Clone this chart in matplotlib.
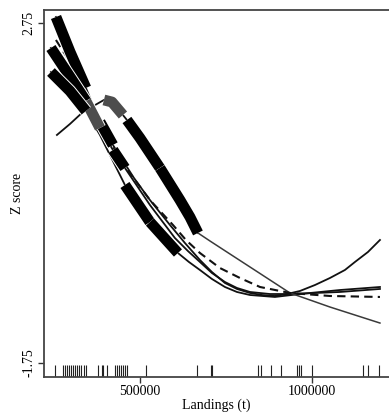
import numpy as np
import matplotlib
matplotlib.use("Agg")
import matplotlib.pyplot as plt
import matplotlib.patheffects as pe

plt.rcParams['font.family'] = ['Liberation Serif', 'DejaVu Serif']

# curves (landings in t, z score)
c1_x = [256000, 297000, 343000, 384000, 421500, 482600, 529000, 587200, 630800,
        674400, 709300, 747100, 782000, 819800, 854700, 892400, 927300, 965000,
        1008700, 1052300, 1095900, 1125000, 1162800, 1197700]
c1_y = [2.829, 2.366, 1.890, 1.440, 1.135, 0.699, 0.407, 0.077, -0.162,
        -0.387, -0.546, -0.691, -0.770, -0.823, -0.850, -0.863, -0.837, -0.797,
        -0.718, -0.625, -0.519, -0.413, -0.281, -0.122]

c2_x = [241300, 296500, 343000, 383700, 421500, 456400, 529100, 601700, 639500,
        674400, 709300, 747100, 782000, 819800, 877900, 936000, 1081400, 1197700]
c2_y = [2.419, 2.040, 1.717, 1.360, 1.069, 0.831, 0.341, -0.096, -0.268,
        -0.413, -0.559, -0.678, -0.757, -0.810, -0.837, -0.837, -0.810, -0.770]

c3_x = [241300, 296500, 343000, 383700, 456400, 529100, 610500, 642400, 674400,
        709300, 747100, 782000, 819800, 892400, 965100, 1081400, 1197700]
c3_y = [2.101, 1.850, 1.585, 1.268, 0.606, 0.116, -0.294, -0.413, -0.519,
        -0.638, -0.744, -0.810, -0.850, -0.876, -0.837, -0.784, -0.744]

hump_x = [258700, 296500, 334300, 375000, 395300, 418600, 450600, 462200, 500000,
          558100, 616300, 645400, 668600, 703500, 761600, 819800, 877900, 936000,
          994200, 1052300, 1125000, 1197700]
hump_y = [1.268, 1.413, 1.572, 1.678, 1.731, 1.704, 1.532, 1.466, 1.228,
          0.831, 0.407, 0.182, -0.029, -0.135, -0.307, -0.479, -0.651, -0.823,
          -0.916, -1.009, -1.115, -1.221]

mean_x = [255800, 296500, 343000, 383700, 441900, 529100, 595900, 633700, 674400,
          732600, 790800, 849000, 936000, 1052300, 1197700]
mean_y = [2.525, 2.234, 1.837, 1.466, 0.937, 0.407, 0.077, -0.122, -0.294,
          -0.493, -0.625, -0.744, -0.823, -0.863, -0.876]

# thick pieces of each curve: (first point, last point, shade)
c1_bands = [(0, 2, 'k'), (3, 4, 'k')]
c2_bands = [(0, 2, 'k'), (2, 3, 'grey'), (4, 5, 'k')]
c3_bands = [(0, 2, 'k'), (4, 5, 'k'), (5, 6, 'k')]
hump_bands = [(4, 6, 'grey'), (7, 9, 'k'), (9, 12, 'k')]
hump_split = 12  # thin line turns grey from here on

# observed landings (rug)
rug = [253000, 276000, 282000, 288000, 294000, 299000, 305000, 311000, 317000,
       323000, 328000, 337000, 343000, 378000, 390000, 392000, 404000, 427000,
       433000, 439000, 445000, 451000, 456000, 462000, 517000, 666000, 706000,
       709000, 843000, 852000, 881000, 910000, 956000, 962000, 968000, 1000000,
       1148000, 1163000, 1195000]

shades = {'k': '#000000', 'grey': '#4d4d4d'}

fig = plt.figure(figsize=(3.89, 4.15), dpi=100)
ax = fig.add_axes([0.113, 0.0916, 0.887, 0.884])

# thin lines
ax.plot(c1_x, c1_y, color='#111111', lw=1.3)
ax.plot(c2_x, c2_y, color='#111111', lw=1.3)
ax.plot(c3_x, c3_y, color='#111111', lw=1.3)
ax.plot(hump_x[:hump_split + 1], hump_y[:hump_split + 1], color='#111111', lw=1.3)
ax.plot(hump_x[hump_split:], hump_y[hump_split:], color='#3a3a3a', lw=1.1)
ax.plot(mean_x, mean_y, color='#111111', lw=1.5, ls=(0, (4, 2.5)))

# thick pieces
edge = [pe.Stroke(linewidth=9.2, foreground='white'), pe.Normal()]
for xs, ys, bands in [(c1_x, c1_y, c1_bands), (c2_x, c2_y, c2_bands),
                      (c3_x, c3_y, c3_bands), (hump_x, hump_y, hump_bands)]:
    for i0, i1, shade in bands:
        ax.plot(xs[i0:i1 + 1], ys[i0:i1 + 1], color=shades[shade], lw=7.8,
                solid_capstyle='butt', solid_joinstyle='round', path_effects=edge)

ax.vlines(rug, 0, 0.033, transform=ax.get_xaxis_transform(), color='#222222', lw=0.8)

ax.set_xlim(221000, 1224000)
ax.set_ylim(-1.935, 2.92)
ax.set_xticks([500000, 1000000])
ax.set_xticklabels(['500000', '1000000'], fontsize=10)
ax.set_yticks([2.75, -1.75])
ax.set_yticklabels(['2.75', '-1.75'], fontsize=10, rotation=90, va='center')
ax.tick_params(direction='out', length=4, width=1, color='#333333', pad=2)
ax.set_xlabel('Landings (t)', fontsize=10, labelpad=0)
ax.set_ylabel('Z score', fontsize=10, labelpad=-1)

for s in ['left', 'bottom', 'top']:
    ax.spines[s].set_color('#444444')
    ax.spines[s].set_linewidth(1.3)
ax.spines['right'].set_visible(False)

fig.savefig('out.png', dpi=100)
